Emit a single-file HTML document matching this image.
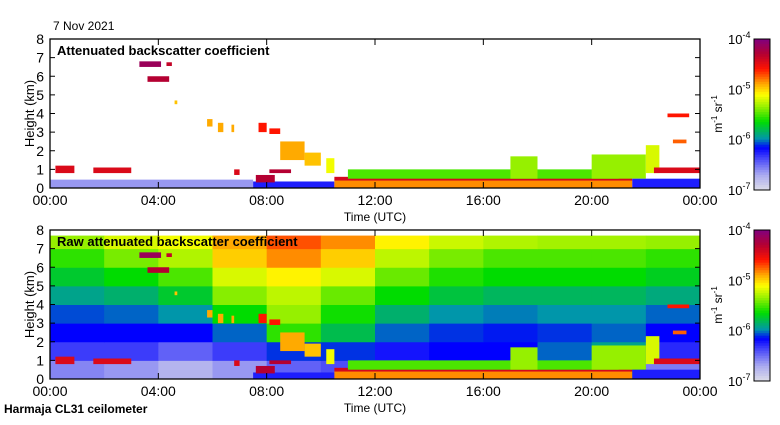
<!DOCTYPE html>
<html><head><meta charset="utf-8"><style>
body{margin:0;background:#fff;width:780px;height:420px;overflow:hidden;font-family:"Liberation Sans","DejaVu Sans",sans-serif}
svg text{font-family:"Liberation Sans","DejaVu Sans",sans-serif}
</style></head><body>
<svg id="c" width="780" height="420" xmlns="http://www.w3.org/2000/svg"></svg>
<script>
// --- data (colour value = fraction of log scale 1e-7..1e-4) ---
const gridHours=[0,2,4,6,8,10,12,14,16,18,20,22];
const gridKm=[0,1,2,3,4,5,6,7];
const rawGrid=[ // rows from 0 km upwards, 2h columns
 [.14,.12,.08,.12,.18,.20,.70,.70,.66,.68,.40,.15],
 [.22,.22,.18,.22,.30,.30,.26,.28,.28,.32,.36,.24],
 [.28,.28,.28,.32,.48,.40,.32,.30,.29,.30,.32,.28],
 [.31,.32,.34,.45,.55,.46,.38,.34,.33,.34,.34,.32],
 [.36,.38,.42,.54,.58,.52,.45,.41,.39,.39,.39,.37],
 [.42,.45,.50,.60,.64,.60,.52,.47,.45,.45,.45,.43],
 [.48,.53,.57,.67,.72,.67,.58,.53,.50,.50,.50,.48],
 [.55,.60,.62,.70,.76,.72,.64,.59,.57,.56,.56,.55]
];
// features: start hour, end hour, base km, top km, value
const featStart=[0,7.5,10.5,10.5,11,17,20,22,21.5,0.2,1.6,8.1,3.3,4.3,3.6,4.6,5.8,6.2,6.7,7.7,8.1,8.5,9.4,10.2,22.3,22.8,23.0,6.8,7.6];
const featEnd  =[7.5,10.5,21.5,21.5,21,18,22,22.5,24,0.9,3.0,8.9,4.1,4.5,4.4,4.7,6.0,6.4,6.8,8.0,8.5,9.4,10.0,10.5,24,23.6,23.5,7.0,8.3];
const featBase =[0,0,0,0.4,0.5,0.5,0.5,0.8,0,0.8,0.8,0.8,6.5,6.55,5.7,4.5,3.3,3.0,3.0,3.0,2.9,1.5,1.2,0.8,0.8,3.8,2.4,0.7,0.3];
const featTop  =[0.45,0.35,0.45,0.6,1.0,1.7,1.8,2.3,0.5,1.2,1.1,1.0,6.8,6.75,6.0,4.7,3.7,3.5,3.4,3.5,3.2,2.5,1.9,1.6,1.1,4.0,2.6,1.0,0.7];
const featVal  =[.12,.25,.72,.86,.50,.55,.55,.60,.25,.85,.85,.90,.95,.88,.90,.68,.70,.70,.70,.80,.80,.70,.68,.62,.85,.80,.75,.85,.9];
const xTicks=["00:00","04:00","08:00","12:00","16:00","20:00","00:00"];
const yTicks=[0,1,2,3,4,5,6,7,8];

const stops=[[0,[220,220,232]],[.1,[170,170,240]],[.22,[60,60,250]],[.28,[0,0,255]],[.34,[0,150,170]],[.45,[0,220,0]],[.55,[150,240,0]],[.63,[255,255,0]],[.7,[255,170,0]],[.8,[255,20,0]],[.9,[180,0,50]],[1,[128,0,128]]];
function cmap(v){for(let i=1;i<stops.length;i++){if(v<=stops[i][0]){const a=stops[i-1],b=stops[i],t=(v-a[0])/(b[0]-a[0]);return 'rgb('+a[1].map((c,k)=>Math.round(c+(b[1][k]-c)*t)).join(',')+')';}}return 'rgb(128,0,128)';}
const NS='http://www.w3.org/2000/svg',svg=document.getElementById('c');
function el(t,a,p){const e=document.createElementNS(NS,t);for(const k in a)e.setAttribute(k,a[k]);(p||svg).appendChild(e);return e;}
const X0=50,X1=700;
const xs=h=>X0+(X1-X0)*h/24;
function panel(top,raw,title,name){
  const bot=top+149,ys=k=>bot-(bot-top)*k/8;
  const g=el('g',{});
  
  
  if(raw){
    rawGrid.forEach((row,r)=>row.forEach((v,c)=>{
      const y1=ys(Math.min(gridKm[r]+1,7.7)),y0=ys(gridKm[r]);
      const x=xs(gridHours[c]);
      const rc=el('rect',{x:x,y:y1,width:xs(gridHours[c]+2)-x+0.5,height:y0-y1+0.5,fill:cmap(v)},g);
      
      
    }));
  }
  featStart.forEach((s,i)=>{
    if(raw&&i===0)return;
    const r=el('rect',{x:xs(s),y:ys(featTop[i]),width:xs(featEnd[i])-xs(s),height:ys(featBase[i])-ys(featTop[i]),fill:cmap(featVal[i])},g);
    
    
  });
  el('rect',{x:X0,y:top,width:X1-X0,height:bot-top,fill:'none',stroke:'#000','stroke-width':1.3},g);
  yTicks.forEach(k=>{const y=ys(k);
    el('line',{x1:X0,x2:X0+5,y1:y,y2:y,stroke:'#000'},g);el('line',{x1:X1-5,x2:X1,y1:y,y2:y,stroke:'#000'},g);
    const t=el('text',{x:X0-6,y:y+5,'font-size':14,'text-anchor':'end'},g);t.textContent=k;
    });
  xTicks.forEach((l,i)=>{const x=xs(i*4);
    el('line',{x1:x,x2:x,y1:bot,y2:bot-6,stroke:'#000'},g);el('line',{x1:x,x2:x,y1:top,y2:top+6,stroke:'#000'},g);
    const t=el('text',{x:x,y:bot+17,'font-size':14,'text-anchor':'middle'},g);t.textContent=l;
    });
  const tt=el('text',{x:57,y:top+16,'font-size':13,'font-weight':'bold'},g);tt.textContent=title;
  
  const yl=el('text',{transform:`translate(34,${(top+bot)/2}) rotate(-90)`,'font-size':13,'text-anchor':'middle'},g);yl.textContent='Height (km)';
  
  const xl=el('text',{x:375,y:bot+33,'font-size':12,'text-anchor':'middle'},g);xl.textContent='Time (UTC)';
  
  // colorbar
  const cb=el('g',{},g);
  
  
  const n=60;for(let i=0;i<n;i++){el('rect',{x:754,y:top+i*(151/n),width:16,height:151/n+0.5,fill:cmap(1-(i+0.5)/n)},cb);}
  el('rect',{x:754,y:top,width:16,height:151,fill:'none',stroke:'#000'},cb);
  ['-4','-5','-6','-7'].forEach((e,i)=>{const y=top+5+i*50.3;
    const t=el('text',{x:728,y:y,'font-size':13},cb);t.innerHTML='10<tspan dy="-6" font-size="9">'+e+'</tspan>';
    });
  const u=el('text',{transform:`translate(722,${top+75}) rotate(-90)`,'font-size':12,'text-anchor':'middle'},cb);
  u.innerHTML='m<tspan dy="-5" font-size="8">-1</tspan><tspan dy="5"> sr</tspan><tspan dy="-5" font-size="8">-1</tspan>';
  
}
panel(39,false,'Attenuated backscatter coefficient','top-panel');
panel(230,true,'Raw attenuated backscatter coefficient','bottom-panel');
const d=el('text',{x:53,y:30,'font-size':12});d.textContent='7 Nov 2021';

const f=el('text',{x:4,y:413,'font-size':12,'font-weight':'bold'});f.textContent='Harmaja CL31 ceilometer';

</script>
</body></html>
